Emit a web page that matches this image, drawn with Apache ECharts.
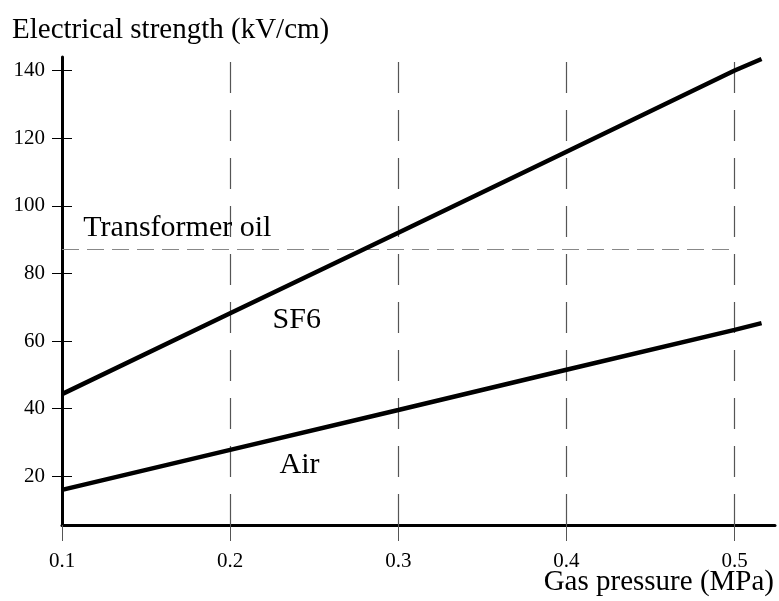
<!DOCTYPE html>
<html><head><meta charset="utf-8">
<script src="https://cdn.jsdelivr.net/npm/echarts@6/dist/echarts.min.js"></script>
<style>html,body{margin:0;padding:0;background:#fff}#c{width:779px;height:601px}</style>
</head><body><div id="c"></div>
<script>
const pressure = [0.1, 0.2, 0.3, 0.4, 0.5, 0.516];
const sf6 = [44.3, 68.2, 92.0, 116.0, 140.0, 143.4];
const air = [16.0, 27.8, 39.6, 51.5, 63.3, 65.3];
const oilLevel = 87.2;
const gridX = [0.2, 0.3, 0.4, 0.5];
const xTicks = [0.1, 0.2, 0.3, 0.4, 0.5];
const yTicks = [20, 40, 60, 80, 100, 120, 140];
const labels = [
  {name: 'Transformer oil', x: 0.1686, y: 93.5},
  {name: 'SF6', x: 0.2396, y: 66.3},
  {name: 'Air', x: 0.2413, y: 23.3}
];
const F = 'Liberation Serif';
const chart = echarts.init(document.getElementById('c'));
const yBase = {type: 'value', min: 5.6, max: 144, splitLine: {show: false}};
chart.setOption({
  animation: false,
  backgroundColor: '#fff',
  title: [
    {text: 'Electrical strength (kV/cm)', left: 7, top: 11, textStyle: {fontFamily: F, fontSize: 29, fontWeight: 'normal', color: '#000'}},
    {text: 'Gas pressure (MPa)', right: 0, top: 563, textStyle: {fontFamily: F, fontSize: 29, fontWeight: 'normal', color: '#000'}}
  ],
  grid: {left: 62, right: 4, top: 57, bottom: 76, containLabel: false},
  xAxis: {
    type: 'value', min: 0.1, max: 0.524,
    axisLine: {lineStyle: {color: '#000', width: 3}},
    axisTick: {show: true, customValues: xTicks, length: 16, lineStyle: {color: '#555', width: 1}},
    axisLabel: {customValues: xTicks, fontFamily: F, fontSize: 21, color: '#000', margin: 26, formatter: v => v.toFixed(1)},
    splitLine: {show: false}
  },
  yAxis: [
    Object.assign({}, yBase, {
      axisLine: {show: true, lineStyle: {color: '#000', width: 3}},
      axisTick: {show: true, customValues: yTicks, length: 10, inside: false, lineStyle: {color: '#000', width: 1}},
      axisLabel: {customValues: yTicks, fontFamily: F, fontSize: 21, color: '#000', margin: 17}
    }),
    Object.assign({}, yBase, {
      position: 'left',
      axisLine: {show: false},
      axisTick: {show: true, customValues: yTicks, length: 10, inside: true, lineStyle: {color: '#000', width: 1}},
      axisLabel: {show: false}
    })
  ],
  series: [
    {
      type: 'line', name: 'SF6', data: pressure.map((p, i) => [p, sf6[i]]),
      showSymbol: false, lineStyle: {color: '#000', width: 4.5}, z: 5,
      markLine: {
        silent: true, symbol: 'none', label: {show: false},
        lineStyle: {color: '#555', width: 1.2, type: [31, 17]},
        data: gridX.map(v => ({xAxis: v}))
      },
      markPoint: {
        symbol: 'circle', symbolSize: 0,
        label: {show: true, position: 'inside', fontFamily: F, fontSize: 30, color: '#000', formatter: p => p.name},
        data: labels.map(l => ({name: l.name, coord: [l.x, l.y]}))
      }
    },
    {
      type: 'line', name: 'Air', data: pressure.map((p, i) => [p, air[i]]),
      showSymbol: false, lineStyle: {color: '#000', width: 4.5}, z: 5,
      markLine: {
        silent: true, symbol: 'none', label: {show: false},
        lineStyle: {color: '#888', width: 1.2, type: [17, 8]},
        data: [[{coord: [0.1, oilLevel]}, {coord: [0.5, oilLevel]}]]
      }
    }
  ]
});
</script></body></html>
